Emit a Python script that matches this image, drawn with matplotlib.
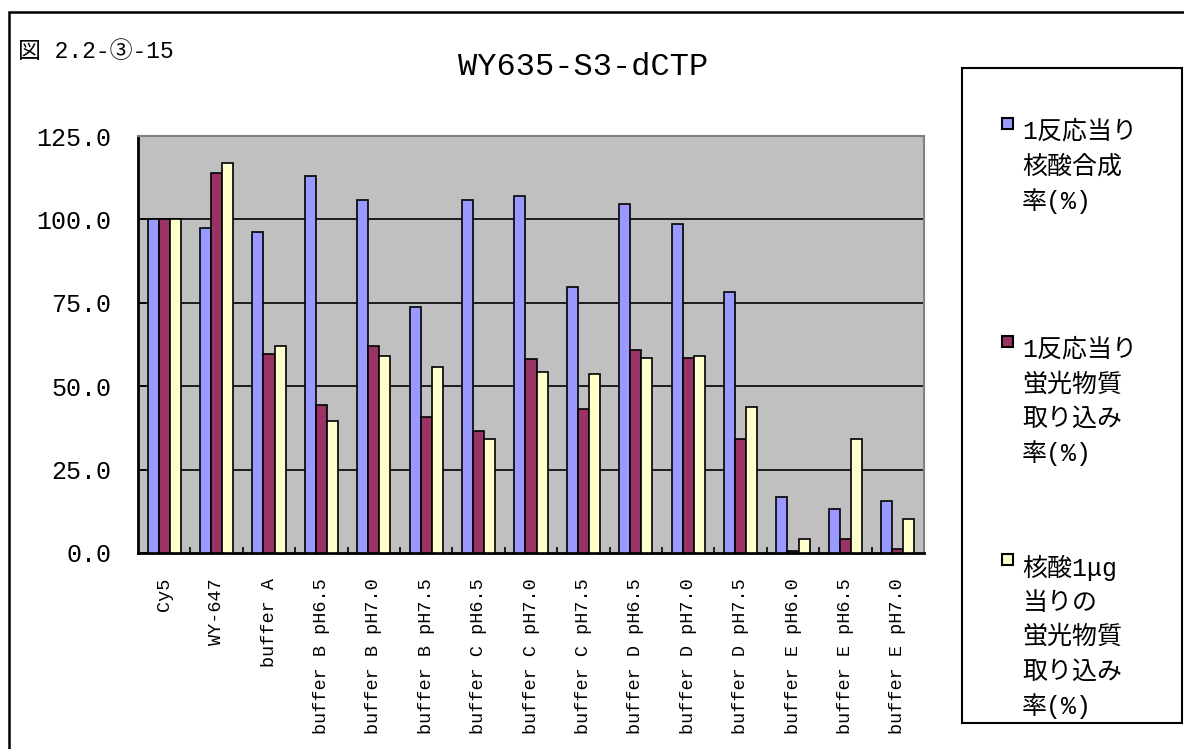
import numpy as np
import matplotlib
matplotlib.use("Agg")
import matplotlib.pyplot as plt
from matplotlib.patches import Rectangle

plt.rcParams['font.family'] = ['Liberation Mono', 'Noto Sans CJK JP', 'DejaVu Sans']

# data
categories = ['Cy5', 'WY-647', 'buffer A',
              'buffer B pH6.5', 'buffer B pH7.0', 'buffer B pH7.5',
              'buffer C pH6.5', 'buffer C pH7.0', 'buffer C pH7.5',
              'buffer D pH6.5', 'buffer D pH7.0', 'buffer D pH7.5',
              'buffer E pH6.0', 'buffer E pH6.5', 'buffer E pH7.0']
synth_rate = [100.0, 97.5, 96.3, 113.1, 105.9, 73.6, 105.9, 107.1, 79.6,
              104.7, 98.7, 78.3, 16.8, 13.2, 15.6]
uptake_rate = [100.0, 113.8, 59.8, 44.4, 62.2, 40.8, 36.6, 58.1, 43.2,
               61.0, 58.6, 34.2, 0.6, 4.3, 1.2]
uptake_per_ug = [100.0, 116.8, 62.2, 39.6, 59.2, 55.7, 34.2, 54.4, 53.8,
                 58.6, 59.2, 43.8, 4.3, 34.2, 10.3]
yticks = [0, 25, 50, 75, 100, 125]

series_names = [['1反応当り', '核酸合成', '率(%)'],
                ['1反応当り', '蛍光物質', '取り込み', '率(%)'],
                ['核酸1μg', '当りの', '蛍光物質', '取り込み', '率(%)']]
colors = ['#9999FF', '#993366', '#FFFFCC']

W, H = 1184, 749
fig = plt.figure(figsize=(W / 100, H / 100), dpi=100)

# outer frame
fig.patches.append(Rectangle((9 / W, -0.2), 1.2, 1.2 - 12 / H, transform=fig.transFigure,
                             fill=False, edgecolor='black', linewidth=1.8))

ax = fig.add_axes([138 / W, 1 - 553 / H, 786 / W, 417 / H])
ax.set_facecolor('#C0C0C0')

x = np.arange(len(categories))
bw = 0.212
for i, vals in enumerate([synth_rate, uptake_rate, uptake_per_ug]):
    ax.bar(x + (i - 1) * bw, vals, bw, color=colors[i], edgecolor='black',
           linewidth=1.2, zorder=3)

ax.set_xlim(-0.5, len(categories) - 0.5)
ax.set_ylim(0, 125)
ax.set_yticks(yticks)
ax.set_yticklabels(['%.1f' % v for v in yticks], fontsize=18)
for v in yticks[1:-1]:
    ax.axhline(v, color='black', linewidth=1.2, zorder=1)

ax.set_xticks(x)
ax.set_xticklabels(categories, rotation=90, fontsize=13.3, va='top', ha='center')
ax.set_xticks(x[:-1] + 0.5, minor=True)
ax.tick_params(axis='x', which='major', length=0, pad=18)
ax.tick_params(axis='x', which='minor', direction='in', length=4, width=1.2, color='black')
ax.tick_params(axis='y', direction='in', length=6, width=1.2, pad=19)

for s in ['left', 'bottom']:
    ax.spines[s].set_color('black')
    ax.spines[s].set_linewidth(2)
for s in ['top', 'right']:
    ax.spines[s].set_color('#808080')
    ax.spines[s].set_linewidth(1.5)

fig.text(583 / W, 1 - 67 / H, 'WY635-S3-dCTP', fontsize=23, ha='center', va='center')
fig.text(18 / W, 1 - 52 / H, '図 2.2-③-15', fontsize=16.5, ha='left', va='center')

# legend box drawn by hand so markers sit on the first line
fig.patches.append(Rectangle((962 / W, 1 - 723 / H), 220 / W, 655 / H, transform=fig.transFigure,
                             facecolor='white', edgecolor='black', linewidth=1.5))
starts = [132, 350, 568]
for name, col, y0 in zip(series_names, colors, starts):
    fig.patches.append(Rectangle((1002 / W, 1 - (y0 - 3) / H), 11 / W, 11 / H,
                                 transform=fig.transFigure, facecolor=col,
                                 edgecolor='black', linewidth=1.5))
    for k, line in enumerate(name):
        fig.text(1022 / W, 1 - (y0 + k * 34.5) / H, line, fontsize=18, ha='left', va='center')

fig.savefig('out.png', dpi=100)
